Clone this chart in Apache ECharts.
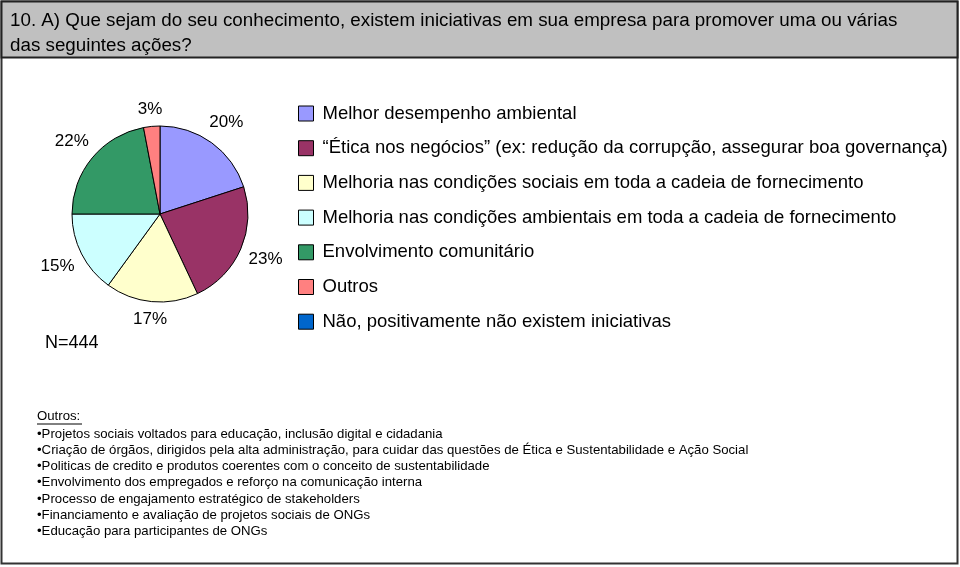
<!DOCTYPE html>
<html><head><meta charset="utf-8">
<script src="https://cdn.jsdelivr.net/npm/echarts@6/dist/echarts.min.js"></script>
<style>html,body{margin:0;padding:0;background:#fff}#c{width:960px;height:567px}</style>
</head><body><div id="c"></div>
<script>
const titleLines = ['10. A) Que sejam do seu conhecimento, existem iniciativas em sua empresa para promover uma ou várias', 'das seguintes ações?'];
const categories = [
  'Melhor desempenho ambiental',
  '\u201CÉtica nos negócios\u201D (ex: redução da corrupção, assegurar boa governança)',
  'Melhoria nas condições sociais em toda a cadeia de fornecimento',
  'Melhoria nas condições ambientais em toda a cadeia de fornecimento',
  'Envolvimento comunitário',
  'Outros',
  'Não, positivamente não existem iniciativas'
];
const values = [20, 23, 17, 15, 22, 3, 0];
const colors = ['#9999FF', '#993366', '#FFFFCC', '#CCFFFF', '#339966', '#FF8080', '#0066CC'];
const sampleNote = 'N=444';
const notesTitle = 'Outros:';
const notes = [
  'Projetos sociais voltados para educação, inclusão digital e cidadania',
  'Criação de órgãos, dirigidos pela alta administração, para cuidar das questões de Ética e Sustentabilidade e Ação Social',
  'Politicas de credito e produtos coerentes com o conceito de sustentabilidade',
  'Envolvimento dos empregados e reforço na comunicação interna',
  'Processo de engajamento estratégico de stakeholders',
  'Financiamento e avaliação de projetos sociais de ONGs',
  'Educação para participantes de ONGs'
];

const FONT = '"Liberation Sans", Arial, Helvetica, sans-serif';
const CX = 160, CY = 214, R = 88, GAP = 8;
const chart = echarts.init(document.getElementById('c'), null, {renderer: 'canvas'});

const pieData = categories.map((n, i) => ({name: n, value: values[i], itemStyle: {color: colors[i], borderWidth: values[i] === 0 ? 0 : 1}}));

const graphics = [
  {type: 'rect', shape: {x: 1.5, y: 1.5, width: 956, height: 562}, style: {fill: '#fff', stroke: '#333', lineWidth: 2}, z: -10},
  {type: 'rect', shape: {x: 1.5, y: 1.5, width: 956, height: 56}, style: {fill: '#C0C0C0', stroke: '#222', lineWidth: 2}, z: -9},
  {type: 'text', left: 10, top: 8, style: {text: titleLines.join('\n'), font: '18.8px ' + FONT, fill: '#000', lineHeight: 25}},
  {type: 'text', left: 45, top: 334, style: {text: sampleNote, font: '18px ' + FONT, fill: '#000'}},
  {type: 'text', left: 37, top: 410, style: {text: notesTitle, font: '13.2px ' + FONT, fill: '#000'}},
  {type: 'line', shape: {x1: 37, y1: 424, x2: 82, y2: 424}, style: {stroke: '#000', lineWidth: 1}},
  {type: 'text', left: 37, top: 426, style: {text: notes.map(s => '\u2022' + s).join('\n'), font: '13.2px ' + FONT, fill: '#000', lineHeight: 16.2}}
];

function placeLabel(params) {
  const r = params.labelRect;
  const mx = r.x + r.width / 2, my = r.y + r.height / 2;
  let dx = mx - CX, dy = my - CY;
  const len = Math.sqrt(dx * dx + dy * dy) || 1;
  dx /= len; dy /= len;
  const ext = Math.abs(dx) * r.width / 2 + Math.abs(dy) * r.height / 2;
  const d = R + GAP + ext;
  return {x: CX + dx * d, y: CY + dy * d, align: 'center', verticalAlign: 'middle'};
}

chart.setOption({
  animation: false,
  backgroundColor: '#fff',
  graphic: graphics,
  legend: {
    orient: 'vertical', left: 293, top: 99,
    itemWidth: 15, itemHeight: 15, itemGap: 15.7,
    icon: 'rect',
    itemStyle: {borderColor: '#000', borderWidth: 1},
    textStyle: {fontFamily: FONT, fontSize: 18.5, color: '#000', padding: [0, 0, 0, 4]},
    data: categories,
    selectedMode: false
  },
  series: [
    {
      type: 'pie', center: [CX, CY], radius: [0, R], startAngle: 90, clockwise: true,
      data: pieData,
      label: {show: true, position: 'inside', fontFamily: FONT, fontSize: 17, color: '#000',
        formatter: p => p.value === 0 ? '' : p.value + '%'},
      labelLine: {show: false},
      labelLayout: placeLabel,
      itemStyle: {borderColor: '#000', borderWidth: 1},
      emphasis: {disabled: true}, silent: true
    }
  ]
});
</script></body></html>
